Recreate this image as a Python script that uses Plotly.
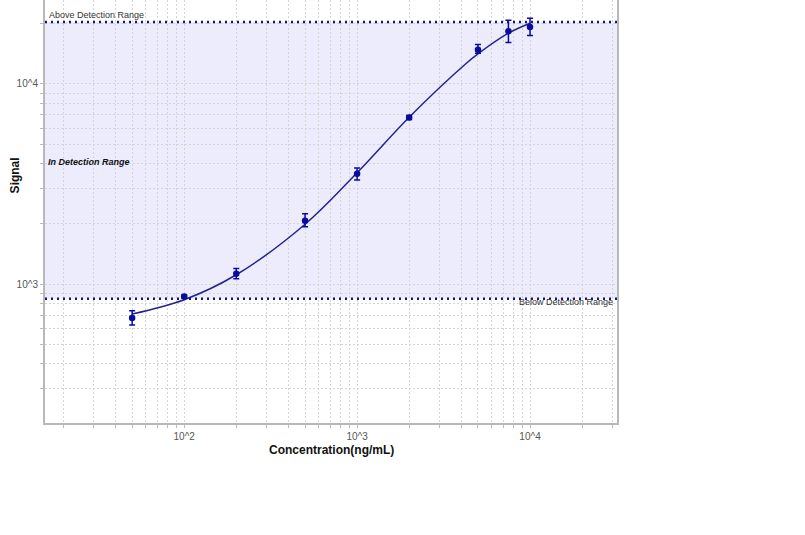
import plotly.graph_objects as go

# Measured points
conc = [50, 100, 200, 500, 1000, 2000, 5000, 7500, 10000]
signal = [676, 867, 1126, 2070, 3560, 6800, 14790, 18330, 19260]
err_plus = [59, 16, 71, 174, 240, 160, 920, 2470, 2040]
err_minus = [52, 14, 64, 138, 250, 160, 560, 2230, 1840]

# Fitted curve points
fit_conc = [50, 100, 200, 500, 1000, 2000, 4285, 5000, 7500, 10000]
fit_signal = [708, 835, 1113, 1990, 3600, 6819, 12685, 14125, 17910, 20090]

upper_limit = 20400
lower_limit = 845

tick_major = [100, 1000, 10000]
tick_major_text = ["10^2", "10^3", "10^4"]

def log_ticks(decades):
    vals = []
    for d in decades:
        for m in range(1, 10):
            vals.append(m * 10 ** d)
    return vals

x_ticks = [v for v in log_ticks([1, 2, 3, 4]) if 15 <= v <= 32000]
x_text = [tick_major_text[tick_major.index(v)] if v in tick_major else "" for v in x_ticks]
y_ticks = [v for v in log_ticks([2, 3, 4]) if 200 <= v <= 27000]
y_text = [("10^3" if v == 1000 else ("10^4" if v == 10000 else "")) for v in y_ticks]

fig = go.Figure()

fig.add_trace(go.Scatter(
    x=fit_conc, y=fit_signal, mode="lines",
    line=dict(color="#23238C", width=1.5, shape="spline", smoothing=1.0),
    hoverinfo="skip", showlegend=False))

fig.add_trace(go.Scatter(
    x=conc, y=signal, mode="markers",
    marker=dict(color="#0A0AA0", size=6.5),
    error_y=dict(type="data", symmetric=False, array=err_plus, arrayminus=err_minus,
                 color="#0A0AA0", thickness=1.5, width=3),
    showlegend=False))

# Shaded detection range
fig.add_shape(type="rect", xref="paper", x0=0, x1=1, yref="y",
              y0=lower_limit, y1=upper_limit,
              fillcolor="#ECECFC", line=dict(width=0), layer="below")
for lim in [upper_limit, lower_limit]:
    fig.add_shape(type="line", xref="paper", x0=0, x1=1, yref="y", y0=lim, y1=lim,
                  line=dict(color="#14147A", width=2.5, dash="2px,4px"))

font_family = "Liberation Sans, Arial, sans-serif"

fig.add_annotation(text="Above Detection Range", xref="paper", yref="y",
                   x=0.003, y=4.345, xanchor="left", yanchor="middle", showarrow=False,
                   font=dict(size=9, color="#333333", family=font_family))
fig.add_annotation(text="Below Detection Range", xref="paper", yref="y",
                   x=0.997, y=2.908, xanchor="right", yanchor="middle", showarrow=False,
                   font=dict(size=9, color="#333333", family=font_family))
fig.add_annotation(text="<b><i>In Detection Range</i></b>", xref="paper", yref="y",
                   x=0.002, y=3.61, xanchor="left", yanchor="middle", showarrow=False,
                   font=dict(size=9, color="#111111", family=font_family))
fig.add_annotation(text="<b>Signal</b>", xref="paper", yref="paper",
                   x=-0.052, y=0.586, textangle=-90, showarrow=False,
                   xanchor="center", yanchor="middle",
                   font=dict(size=12, color="#111111", family=font_family))
fig.add_annotation(text="<b>Concentration(ng/mL)</b>", xref="paper", yref="paper",
                   x=0.5, y=-0.065, showarrow=False, xanchor="center", yanchor="middle",
                   font=dict(size=12, color="#111111", family=font_family))

fig.update_xaxes(type="log", range=[1.195, 4.503],
                 tickmode="array", tickvals=x_ticks, ticktext=x_text,
                 ticks="outside", ticklen=3, tickcolor="#bbbbbb",
                 showgrid=True, gridcolor="#d4d4d4", griddash="2px,2px", gridwidth=1,
                 showline=True, linecolor="#b8b8b8", linewidth=2, mirror=False,
                 zeroline=False,
                 tickfont=dict(size=10, color="#555555", family=font_family))
fig.update_yaxes(type="log", range=[2.306, 4.419],
                 tickmode="array", tickvals=y_ticks, ticktext=y_text,
                 ticks="outside", ticklen=3, tickcolor="#bbbbbb",
                 showgrid=True, gridcolor="#d4d4d4", griddash="2px,2px", gridwidth=1,
                 showline=True, linecolor="#b8b8b8", linewidth=2, mirror=True,
                 zeroline=False,
                 tickfont=dict(size=10, color="#555555", family=font_family))

fig.update_layout(width=805, height=535,
                  margin=dict(l=45, r=188, t=0, b=112),
                  plot_bgcolor="white", paper_bgcolor="white",
                  font=dict(family=font_family))

fig.write_html("out.html", config={"displayModeBar": False},
               post_script="document.body.style.margin='0';")
